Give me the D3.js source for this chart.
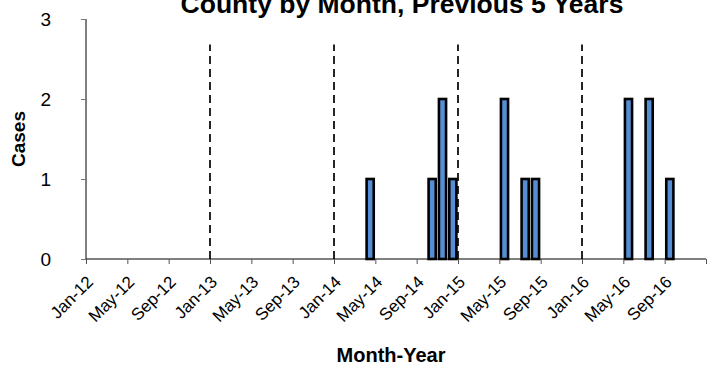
<!DOCTYPE html>
<html>
<head>
<meta charset="utf-8">
<script src="https://cdn.jsdelivr.net/npm/d3@7"></script>
<style>
  html, body { margin: 0; padding: 0; background: #fff; }
  svg { display: block; font-family: "Liberation Sans", Arial, sans-serif; }
</style>
</head>
<body>
<svg id="chart" width="715" height="373"></svg>
<script>
// ---- data ----
const months = [
  "Jan-12","Feb-12","Mar-12","Apr-12","May-12","Jun-12","Jul-12","Aug-12","Sep-12","Oct-12","Nov-12","Dec-12",
  "Jan-13","Feb-13","Mar-13","Apr-13","May-13","Jun-13","Jul-13","Aug-13","Sep-13","Oct-13","Nov-13","Dec-13",
  "Jan-14","Feb-14","Mar-14","Apr-14","May-14","Jun-14","Jul-14","Aug-14","Sep-14","Oct-14","Nov-14","Dec-14",
  "Jan-15","Feb-15","Mar-15","Apr-15","May-15","Jun-15","Jul-15","Aug-15","Sep-15","Oct-15","Nov-15","Dec-15",
  "Jan-16","Feb-16","Mar-16","Apr-16","May-16","Jun-16","Jul-16","Aug-16","Sep-16","Oct-16","Nov-16","Dec-16"
];
const cases = [
  0,0,0,0,0,0,0,0,0,0,0,0,
  0,0,0,0,0,0,0,0,0,0,0,0,
  0,0,0,1,0,0,0,0,0,1,2,1,
  0,0,0,0,2,0,1,1,0,0,0,0,
  0,0,0,0,2,0,2,0,1,0,0,0
];
const tickLabels = ["Jan-12","May-12","Sep-12","Jan-13","May-13","Sep-13","Jan-14","May-14","Sep-14","Jan-15","May-15","Sep-15","Jan-16","May-16","Sep-16"];
const yTicks = [0, 1, 2, 3];
const yearStarts = ["Jan-13","Jan-14","Jan-15","Jan-16"];
const yearLineHeight = [2.68];
const title = "County by Month, Previous 5 Years";
const xTitle = "Month-Year";
const yTitle = "Cases";

// ---- layout ----
const svg = d3.select("#chart");
const mLeft = 86, mRight = 706, mTop = 19, mBottom = 259;

const x = d3.scaleBand().domain(months).range([mLeft, mRight]).paddingInner(0).paddingOuter(0);
const y = d3.scaleLinear().domain([0, 3]).range([mBottom, mTop]);
const bw = x.bandwidth();

// title (partly cut off at top, as in the reference)
svg.append("text")
  .attr("x", 402).attr("y", 13)
  .attr("text-anchor", "middle")
  .attr("font-size", 26.5).attr("font-weight", "bold")
  .text(title);

// dashed year separators
svg.append("g").selectAll("line").data(yearStarts).join("line")
  .attr("x1", d => x(d)).attr("x2", d => x(d))
  .attr("y1", y(0)).attr("y2", y(yearLineHeight[0]))
  .attr("stroke", "#000").attr("stroke-width", 1.7)
  .attr("stroke-dasharray", "8,5");

// bars
svg.append("g").selectAll("rect").data(months.map((m, i) => ({m, v: cases[i]})).filter(d => d.v > 0))
  .join("rect")
  .attr("x", d => x(d.m) + 1.6)
  .attr("width", bw - 3.2)
  .attr("y", d => y(d.v))
  .attr("height", d => y(0) - y(d.v))
  .attr("fill", "#558ED5")
  .attr("stroke", "#000")
  .attr("stroke-width", 2.6);

// y axis
const yAxis = d3.axisLeft(y).tickValues(yTicks).tickFormat(d3.format("d")).tickSize(5).tickPadding(30);
const gy = svg.append("g").attr("transform", `translate(${mLeft},0)`).call(yAxis);
gy.select(".domain").attr("stroke", "#000").attr("d", `M0,${mTop}V${mBottom}`);
gy.selectAll(".tick line").attr("stroke", "#777");
gy.selectAll(".tick text").attr("font-size", 19).attr("fill", "#000")
  .attr("font-family", "Liberation Sans, Arial, sans-serif");

// x axis
const xLin = d3.scaleLinear().domain([0, months.length]).range([mLeft, mRight]);
const xTickVals = tickLabels.map(t => months.indexOf(t)).concat([months.length]);
const xAxis = d3.axisBottom(xLin).tickValues(xTickVals).tickFormat("").tickSize(5);
const gx = svg.append("g").attr("transform", `translate(0,${mBottom})`).call(xAxis);
gx.select(".domain").attr("stroke", "#000").attr("d", `M${mLeft},0H${mRight}`);
gx.selectAll(".tick line").attr("stroke", "#555");

svg.append("g").selectAll("text").data(tickLabels).join("text")
  .attr("transform", d => `translate(${x(d) + bw / 2 + 3},${mBottom + 24}) rotate(-45)`)
  .attr("text-anchor", "end")
  .attr("font-size", 17)
  .text(d => d);

// axis titles
svg.append("text")
  .attr("x", 391).attr("y", 362)
  .attr("text-anchor", "middle")
  .attr("font-size", 20).attr("font-weight", "bold")
  .text(xTitle);

svg.append("text")
  .attr("transform", `translate(25,139) rotate(-90)`)
  .attr("text-anchor", "middle")
  .attr("font-size", 19).attr("font-weight", "bold")
  .text(yTitle);
</script>
</body>
</html>
